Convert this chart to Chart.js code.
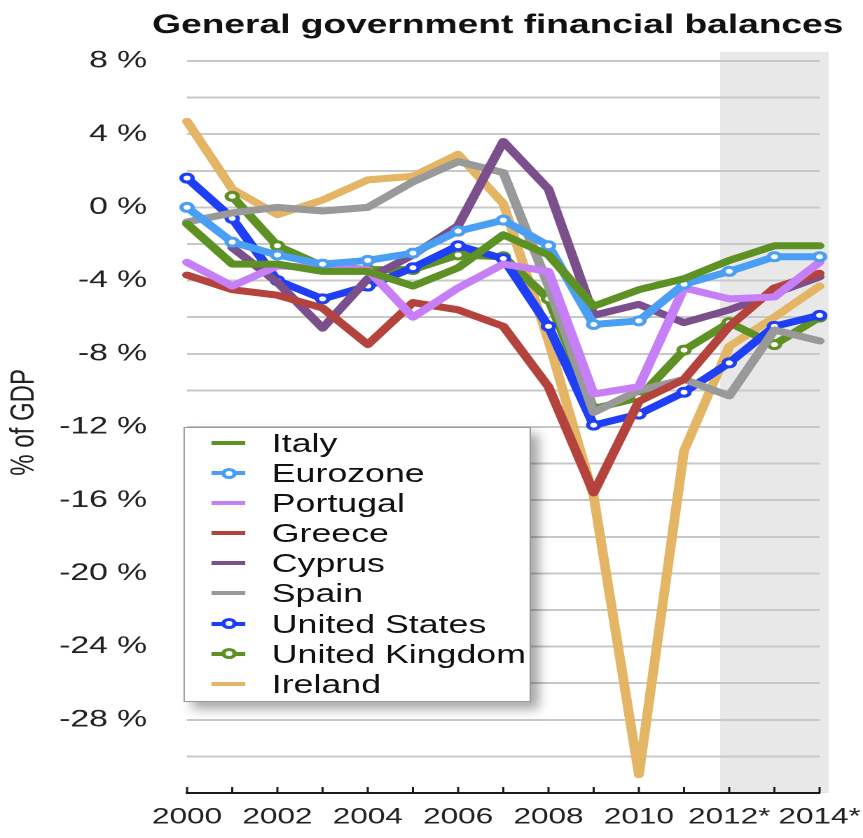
<!DOCTYPE html>
<html>
<head>
<meta charset="utf-8">
<title>General government financial balances</title>
<script src="https://cdn.jsdelivr.net/npm/chart.js@4.4.1/dist/chart.umd.min.js"></script>
<style>
  html, body { margin: 0; padding: 0; background: #fff; overflow: hidden; }
  /* the reference is stretched sideways, so the chart is drawn narrow and widened */
  #stage { position: absolute; left: 0; top: 0; width: 616px; height: 838px; transform: scaleX(1.401); transform-origin: 0 0; }
  #chart { position: absolute; left: 0; top: 0; }
  #legend { position: absolute; left: 131px; top: 427px; width: 248px; height: 275px; box-sizing: border-box;
            border: 1.5px solid #9a9a9a; background: #fff; box-shadow: 6px 7px 9px rgba(0,0,0,0.35);
            font-family: 'Liberation Sans', Arial, sans-serif; font-size: 25.5px; color: #111; }
  .row { position: relative; height: 30.1px; line-height: 30.1px; }
  .row .line { position: absolute; left: 19px; top: 13px; width: 24px; height: 4px; }
  .row .dot { position: absolute; left: 25.5px; top: 9.5px; width: 5px; height: 5px; border: 3px solid; border-radius: 50%; background: #fff; }
  .row .name { position: absolute; left: 62px; top: 0; white-space: nowrap; }
</style>
</head>
<body>
<div id="stage">
  <canvas id="chart" width="616" height="838"></canvas>
  <div id="legend"></div>
</div>
<script>
// Years on the x axis (* = forecast)
const years = ['2000', '2001', '2002', '2003', '2004', '2005', '2006', '2007',
               '2008', '2009', '2010', '2011', '2012*', '2013*', '2014*'];

// Financial balance, % of GDP
const italy         = [-0.9, -3.1, -3.1, -3.5, -3.5, -4.3, -3.3, -1.5, -2.6, -5.4, -4.5, -3.9, -2.9, -2.1, -2.1];
const eurozone      = [0.0, -1.9, -2.6, -3.1, -2.9, -2.5, -1.3, -0.7, -2.1, -6.4, -6.2, -4.2, -3.5, -2.7, -2.7];
const portugal      = [-3.0, -4.3, -3.2, -3.3, -3.4, -6.0, -4.4, -3.1, -3.5, -10.2, -9.8, -4.4, -5.0, -4.9, -3.0];
const greece        = [-3.7, -4.5, -4.8, -5.5, -7.5, -5.2, -5.6, -6.5, -9.8, -15.6, -10.6, -9.4, -6.5, -4.4, -3.6];
const cyprus        = [null, -2.2, -4.1, -6.6, -3.9, -2.6, -1.0, 3.6, 1.0, -5.9, -5.3, -6.3, -5.6, -4.7, -3.8];
const spain         = [-0.8, -0.3, 0.0, -0.2, 0.0, 1.4, 2.5, 1.9, -4.3, -11.2, -10.0, -9.4, -10.3, -6.7, -7.3];
const unitedStates  = [1.6, -0.6, -4.0, -5.0, -4.3, -3.3, -2.1, -2.8, -6.5, -11.9, -11.3, -10.1, -8.5, -6.5, -5.9];
const unitedKingdom = [null, 0.6, -2.1, -3.2, -3.4, -3.4, -2.6, -2.7, -5.0, -11.0, -10.4, -7.8, -6.3, -7.5, -6.0];
const ireland       = [4.7, 1.0, -0.4, 0.4, 1.5, 1.7, 2.9, 0.2, -7.3, -15.8, -31.0, -13.3, -7.6, -6.0, -4.3];

// y axis range and the shaded forecast band (in year-index units)
const yMin = -32;
const yMax = 8.5;
const bandFrom = 11.8;
const bandTo = 14.2;

const series = [
    { label: 'Italy',          data: italy,         color: '#5e9123', markers: false },
    { label: 'Eurozone',       data: eurozone,      color: '#4a9ff5', markers: true },
    { label: 'Portugal',       data: portugal,      color: '#c77ff7', markers: false },
    { label: 'Greece',         data: greece,        color: '#b5433d', markers: false },
    { label: 'Cyprus',         data: cyprus,        color: '#7b4f8c', markers: false },
    { label: 'Spain',          data: spain,         color: '#999999', markers: false },
    { label: 'United States',  data: unitedStates,  color: '#1e3ff5', markers: true },
    { label: 'United Kingdom', data: unitedKingdom, color: '#5e9123', markers: true },
    { label: 'Ireland',        data: ireland,       color: '#e3b564', markers: false }
];

const FONT = "'Liberation Sans', Arial, sans-serif";

// grey background behind the forecast years
const forecastBand = {
    id: 'forecastBand',
    beforeDraw(chart) {
        const { ctx, chartArea, scales } = chart;
        const left = scales.x.getPixelForValue(bandFrom);
        const right = scales.x.getPixelForValue(bandTo);
        ctx.save();
        ctx.fillStyle = '#e8e8e8';
        ctx.fillRect(left, chartArea.top, right - left, chartArea.bottom - chartArea.top);
        ctx.restore();
    }
};

// small tick marks pointing up from the x axis
const innerTicks = {
    id: 'innerTicks',
    afterDatasetsDraw(chart) {
        const { ctx, chartArea, scales } = chart;
        ctx.save();
        ctx.strokeStyle = '#1a1a1a';
        ctx.lineWidth = 1.5;
        ctx.beginPath();
        scales.x.ticks.forEach((t, i) => {
            const px = scales.x.getPixelForTick(i);
            ctx.moveTo(px, chartArea.bottom - 6);
            ctx.lineTo(px, chartArea.bottom);
        });
        ctx.stroke();
        ctx.restore();
    }
};

const chart = new Chart(document.getElementById('chart'), {
    type: 'line',
    data: {
        labels: years,
        datasets: series.map(s => ({
            label: s.label,
            data: s.data,
            borderColor: s.color,
            backgroundColor: s.color,
            borderWidth: 7,
            borderJoinStyle: 'round',
            borderCapStyle: 'round',
            tension: 0,
            pointRadius: s.markers ? 4 : 0,
            pointBorderWidth: 3,
            pointBorderColor: s.color,
            pointBackgroundColor: '#ffffff',
            fill: false
        }))
    },
    options: {
        responsive: false,
        devicePixelRatio: 2,
        animation: false,
        layout: { padding: { top: 0, right: 14, bottom: 0, left: 0 } },
        plugins: {
            legend: { display: false },
            tooltip: { enabled: false },
            title: {
                display: true,
                text: 'General government financial balances',
                align: 'end',
                color: '#111',
                font: { family: FONT, size: 26.5, weight: 'bold' },
                padding: { top: 10, bottom: 10 }
            }
        },
        scales: {
            x: {
                type: 'category',
                offset: false,
                grid: { display: false, drawTicks: false },
                border: { display: true, color: '#1a1a1a', width: 2 },
                ticks: {
                    autoSkip: false,
                    maxRotation: 0,
                    minRotation: 0,
                    padding: 11,
                    color: '#222',
                    font: { family: FONT, size: 22.5 },
                    callback: function (v, i) { return i % 2 === 0 ? this.getLabelForValue(v) : ''; }
                },
                afterFit: s => { s.height = 45; s.paddingRight = 31; }
            },
            y: {
                min: yMin,
                max: yMax,
                afterFit: s => { s.width = 133.5; s.paddingTop = 0; s.paddingBottom = 0; },
                grid: {
                    drawTicks: false,
                    lineWidth: 2,
                    color: c => (c.tick && c.tick.value % 2 === 0 && c.tick.value > yMin) ? '#c8c8c8' : 'rgba(0,0,0,0)'
                },
                border: { display: false },
                ticks: {
                    stepSize: 2,
                    includeBounds: false,
                    padding: 28.5,
                    color: '#222',
                    font: { family: FONT, size: 24 },
                    callback: v => {
                        if (v % 2 !== 0 || v <= yMin) return null;
                        return v % 4 === 0 ? v + ' %' : '';
                    }
                },
                title: {
                    display: true,
                    text: '% of GDP',
                    color: '#222',
                    font: { family: FONT, size: 24 },
                    padding: { top: 3, bottom: 0 }
                }
            }
        }
    },
    plugins: [forecastBand, innerTicks]
});

// legend box drawn over the lower-left of the plot
const legendEl = document.getElementById('legend');
series.forEach(s => {
    const row = document.createElement('div');
    row.className = 'row';
    const line = document.createElement('span');
    line.className = 'line';
    line.style.background = s.color;
    row.appendChild(line);
    if (s.markers) {
        const dot = document.createElement('span');
        dot.className = 'dot';
        dot.style.borderColor = s.color;
        row.appendChild(dot);
    }
    const name = document.createElement('span');
    name.className = 'name';
    name.textContent = s.label;
    row.appendChild(name);
    legendEl.appendChild(row);
});
</script>
</body>
</html>
